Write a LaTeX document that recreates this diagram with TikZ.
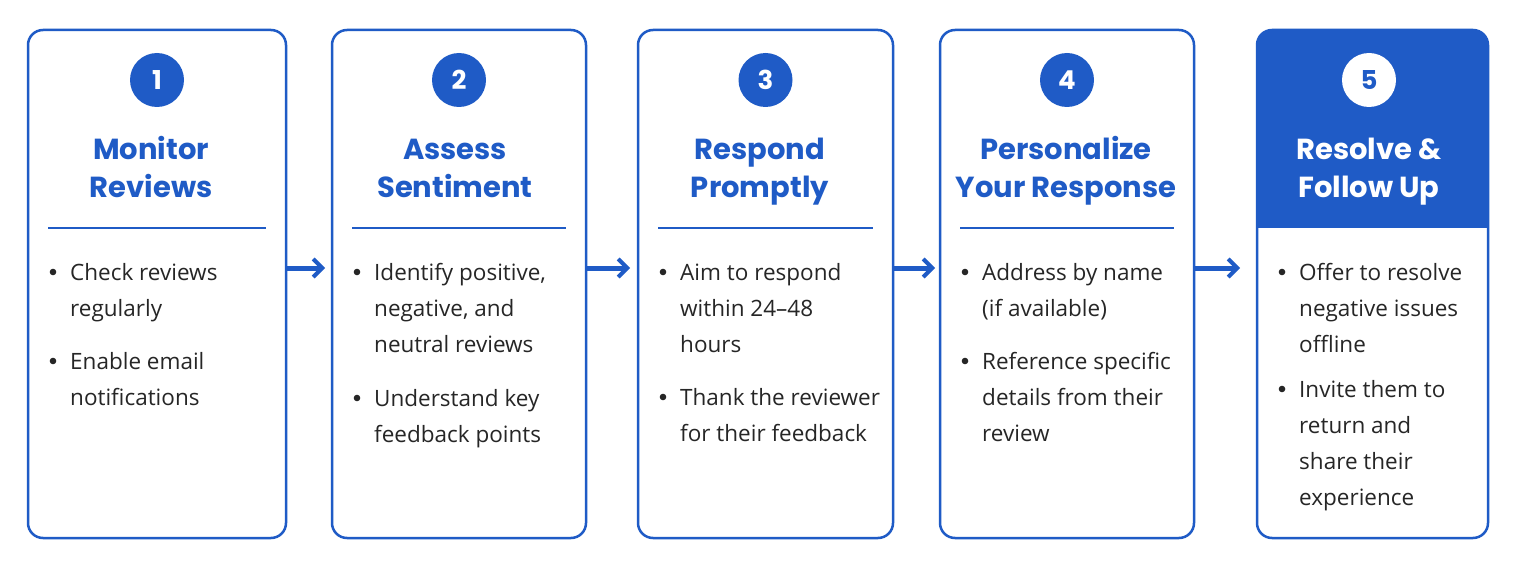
\documentclass[tikz,border=0pt]{standalone}
\usetikzlibrary{arrows.meta}
\usepackage{fontspec}
\setmainfont{Open Sans}
\newfontfamily\titlefont{Poppins}
\definecolor{bl}{HTML}{1F5BC6}
\begin{document}
\begin{tikzpicture}[x=1pt,y=-1pt,
  box/.style={draw=bl,line width=2.5pt,rounded corners=15pt},
  num/.style={circle,fill=bl,minimum size=54pt,inner sep=0pt,text=white,font=\titlefont\bfseries\fontsize{26}{26}\selectfont},
  ttl/.style={align=center,text=bl,font=\titlefont\bfseries\fontsize{29}{38}\selectfont,anchor=base},
  bul/.style={anchor=base west,align=left,inner sep=0pt,font=\fontsize{22.5}{36}\selectfont,text=black!85},
  arr/.style={draw=bl,line width=5pt,-{Straight Barb[length=9pt,width=18pt,line width=4pt]}},
  sep/.style={draw=bl,line width=1.8pt}]
\useasboundingbox (0,0) rectangle (1516,567);
\fill[white] (0,0) rectangle (1516,567);
% box 5 fill
\begin{scope}
\clip[rounded corners=15pt] (1257,30) rectangle (1488,538);
\fill[bl] (1257,30) rectangle (1488,228);
\end{scope}
\foreach \n/\a/\b in {1/28/286,2/332/586,3/638/893,4/940/1194,5/1257/1488}{
  \draw[box] (\a,30) rectangle (\b,538);
}
\foreach \n/\a/\b in {1/28/286,2/332/586,3/638/893,4/940/1194}{
  \draw[sep] (\a+20,228) -- (\b-20,228);
  \node[num] (c\n) at ({(\a+\b)/2},80) {\n};
}
\node[num,fill=white,text=bl] (c5) at (1369,80) {5};
\node[ttl] (t1) at (151,197) {Monitor\\Reviews};
\node[ttl] (t2) at (455,197) {Assess\\Sentiment};
\node[ttl] (t3) at (760,197) {Respond\\Promptly};
\node[ttl] (t4) at (1066,197) {Personalize\\Your Response};
\node[ttl,text=white] (t5) at (1369,197) {Resolve \&\\Follow Up};
% bullets: x, first-line centre y, lines, text, name
\newcommand\bp[5]{\fill[black!85] (#1+25,#2) circle (3.3pt); \node[bul] (#5) at (#1+42,{#2+8+36*(#3-1)}) {#4};}
\bp{28}{272}{2}{Check reviews\\regularly}{b11}
\bp{28}{361}{2}{Enable email\\notifications}{b12}
\bp{332}{272}{3}{Identify positive,\\negative, and\\neutral reviews}{b21}
\bp{332}{398}{2}{Understand key\\feedback points}{b22}
\bp{638}{272}{3}{Aim to respond\\within 24–48\\hours}{b31}
\bp{638}{397}{2}{Thank the reviewer\\for their feedback}{b32}
\bp{940}{272}{2}{Address by name\\(if available)}{b41}
\bp{940}{361}{3}{Reference specific\\details from their\\review}{b42}
\bp{1257}{272}{3}{Offer to resolve\\negative issues\\offline}{b51}
\bp{1257}{389}{4}{Invite them to\\return and\\share their\\experience}{b52}
% arrows
\coordinate (a1) at (287,268); \coordinate (a1e) at (325,268);
\coordinate (a2) at (587,268); \coordinate (a2e) at (630,268);
\coordinate (a3) at (894,268); \coordinate (a3e) at (935,268);
\coordinate (a4) at (1195,268); \coordinate (a4e) at (1240,268);
\draw[arr] (a1) -- (a1e);
\draw[arr] (a2) -- (a2e);
\draw[arr] (a3) -- (a3e);
\draw[arr] (a4) -- (a4e);
\end{tikzpicture}
\end{document}
